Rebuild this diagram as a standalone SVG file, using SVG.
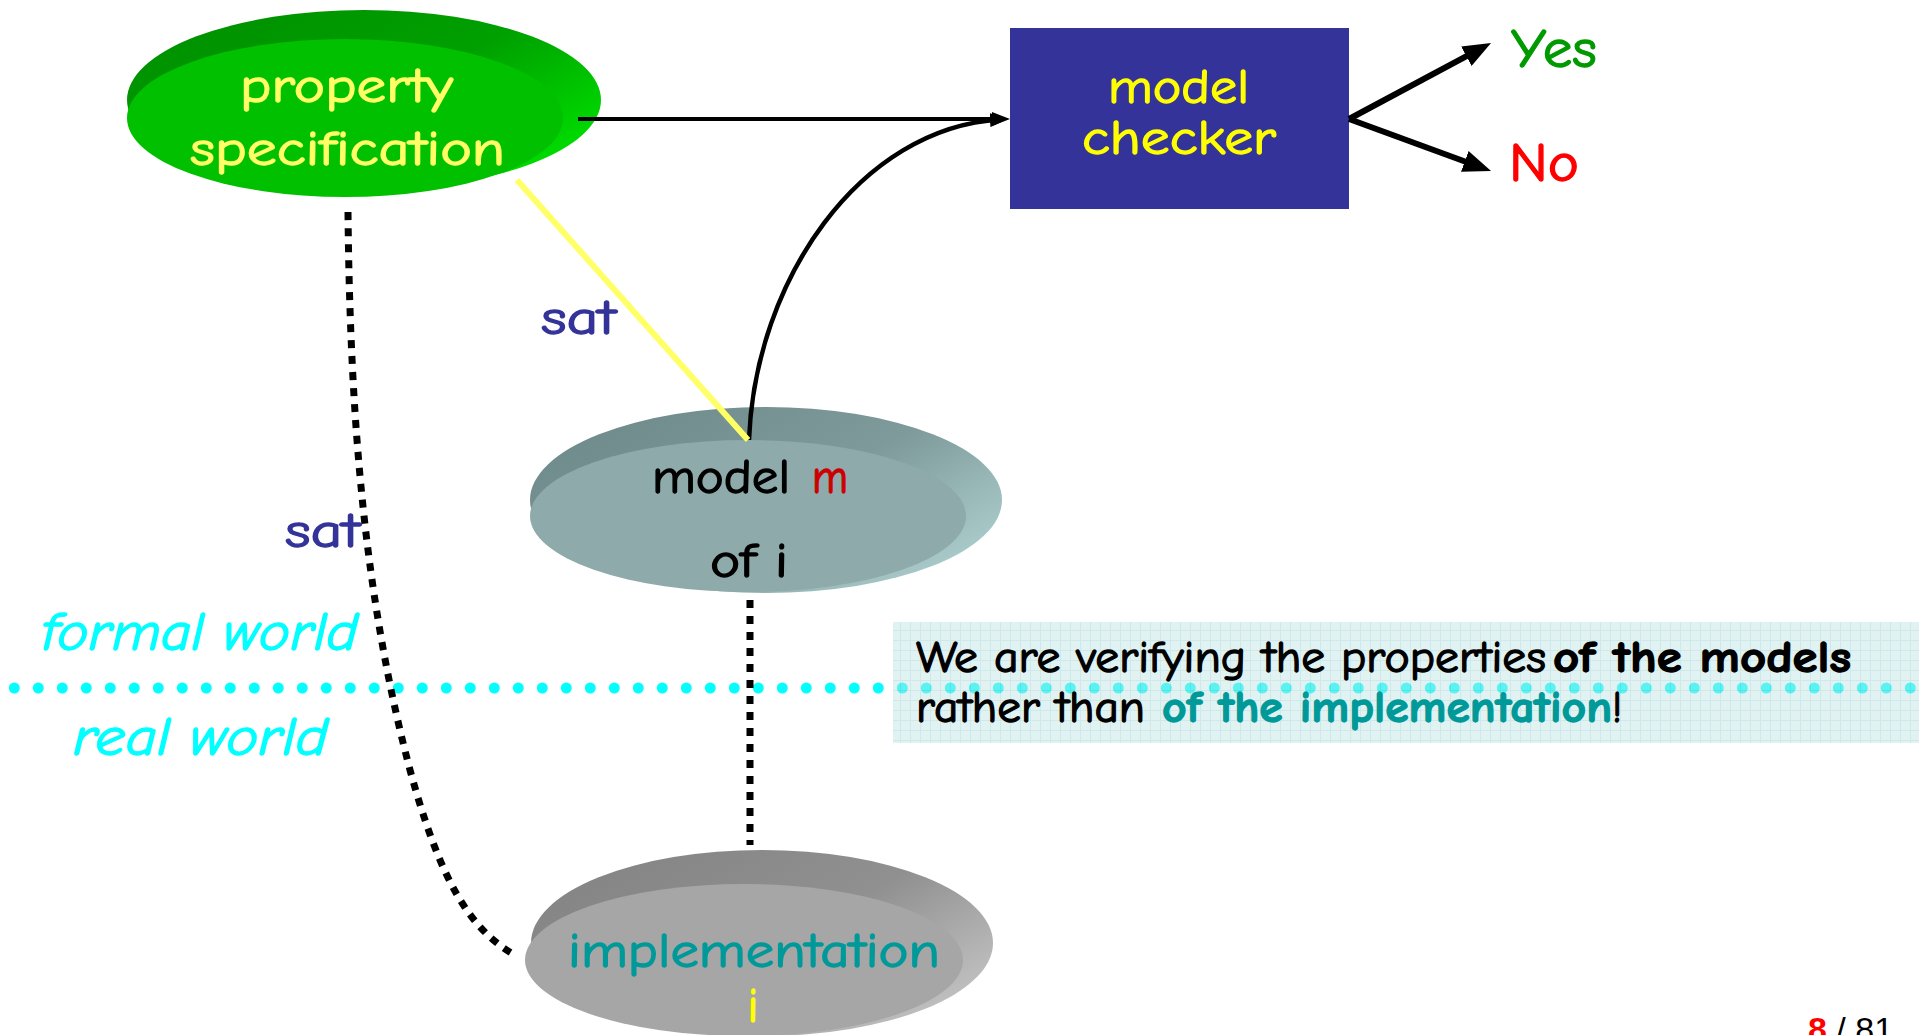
<svg xmlns="http://www.w3.org/2000/svg" width="1919" height="1035" viewBox="0 0 1919 1035">
<style>
.t{font-family:"Comic Sans MS","Comic Neue","DejaVu Sans",sans-serif;font-size:48px;stroke-width:1.3px;}
.big{font-size:54px;}
.box{font-size:44px;}
.it{font-style:italic;font-size:54px;fill:#00FFFF;stroke:#00FFFF;}
.lbl{fill:#333399;stroke:#333399;}
.conn{fill:none;stroke:#000;}
.dot{fill:none;stroke:#000;stroke-width:7;stroke-dasharray:8 8;}
</style>
<defs>
<linearGradient id="gGreen" x1="0" y1="0" x2="1" y2="0.7">
<stop offset="0" stop-color="#008E00"/><stop offset="0.6" stop-color="#00A000"/><stop offset="1" stop-color="#00DD00"/>
</linearGradient>
<linearGradient id="gModel" x1="0" y1="0" x2="1" y2="0.7">
<stop offset="0" stop-color="#6C8787"/><stop offset="0.6" stop-color="#7E9A9A"/><stop offset="1" stop-color="#AACBCB"/>
</linearGradient>
<linearGradient id="gImpl" x1="0" y1="0" x2="1" y2="0.7">
<stop offset="0" stop-color="#828282"/><stop offset="0.6" stop-color="#909090"/><stop offset="1" stop-color="#C0C0C0"/>
</linearGradient>
<pattern id="grid" width="10" height="10" patternUnits="userSpaceOnUse">
<rect width="10" height="10" fill="#BFE4E4"/>
<path d="M0 0.5H10M0.5 0V10" stroke="#9CCFD2" stroke-width="1"/>
</pattern>
<marker id="hs" viewBox="0 0 18 14" refX="10" refY="7" markerWidth="18" markerHeight="14" markerUnits="userSpaceOnUse" orient="auto">
<path d="M0 0L18 7L0 14z" fill="#000"/>
</marker>
<marker id="hl" viewBox="0 0 28 22" refX="14" refY="11" markerWidth="28" markerHeight="22" markerUnits="userSpaceOnUse" orient="auto">
<path d="M0 0L28 11L0 22z" fill="#000"/>
</marker>
</defs>
<rect width="1919" height="1035" fill="#FFFFFF"/>

<!-- world separator -->
<path d="M14.3 688H1919" fill="none" stroke="#00FFFF" stroke-width="11" stroke-linecap="round" stroke-dasharray="0 24"/>
<text class="t it" x="42" y="650" textLength="316" lengthAdjust="spacingAndGlyphs">formal world</text>
<text class="t it" x="73" y="755" textLength="255" lengthAdjust="spacingAndGlyphs">real world</text>

<!-- note box -->
<g id="note">
<rect x="893" y="622" width="1026" height="121" fill="url(#grid)" opacity="0.48"/>
<text class="t box" x="916" y="672" fill="#000" stroke="#000" textLength="630" lengthAdjust="spacingAndGlyphs">We are verifying the properties</text>
<text class="t box" x="1553" y="672" font-weight="bold" fill="#000" stroke="#000" textLength="298" lengthAdjust="spacingAndGlyphs">of the models</text>
<text class="t box" x="916" y="722" fill="#000" stroke="#000" textLength="229" lengthAdjust="spacingAndGlyphs">rather than</text>
<text class="t box" x="1162" y="722" font-weight="bold" fill="#009999" stroke="#009999" textLength="450" lengthAdjust="spacingAndGlyphs">of the implementation</text>
<text class="t box" x="1612" y="722" fill="#000" stroke="#000" textLength="10" lengthAdjust="spacingAndGlyphs">!</text>
</g>

<!-- nodes -->
<g id="property">
<ellipse cx="364" cy="100" rx="237" ry="90" fill="url(#gGreen)"/>
<ellipse cx="345" cy="118" rx="218" ry="79" fill="#00C000"/>
<text class="t" x="240" y="102" fill="#FFFF66" stroke="#FFFF66" textLength="213" lengthAdjust="spacingAndGlyphs">property</text>
<text class="t" x="190" y="165" fill="#FFFF66" stroke="#FFFF66" textLength="315" lengthAdjust="spacingAndGlyphs">specification</text>
</g>
<g id="checker">
<rect x="1010" y="28" width="339" height="181" fill="#333399"/>
<text class="t" x="1108" y="103" fill="#FFFF00" stroke="#FFFF00" textLength="141" lengthAdjust="spacingAndGlyphs">model</text>
<text class="t" x="1082" y="154" fill="#FFFF00" stroke="#FFFF00" textLength="194" lengthAdjust="spacingAndGlyphs">checker</text>
</g>
<g id="yes"><text class="t big" x="1511" y="67" fill="#009900" stroke="#009900" textLength="86" lengthAdjust="spacingAndGlyphs">Yes</text></g>
<g id="no"><text class="t big" x="1509" y="181" fill="#FF0000" stroke="#FF0000" textLength="70" lengthAdjust="spacingAndGlyphs">No</text></g>
<g id="model">
<ellipse cx="766" cy="500" rx="236" ry="93" fill="url(#gModel)"/>
<ellipse cx="748" cy="516" rx="218" ry="76" fill="#8EAAAA"/>
<text class="t" x="652" y="493" fill="#000" stroke="#000" textLength="138" lengthAdjust="spacingAndGlyphs">model</text>
<text class="t" x="812" y="493" fill="#CC0000" stroke="#CC0000" textLength="36" lengthAdjust="spacingAndGlyphs">m</text>
<text class="t" x="710" y="577" fill="#000" stroke="#000" textLength="78" lengthAdjust="spacingAndGlyphs">of i</text>
</g>
<g id="implementation">
<ellipse cx="762" cy="943" rx="231" ry="93" fill="url(#gImpl)"/>
<ellipse cx="744" cy="960" rx="219" ry="76" fill="#A6A6A6"/>
<text class="t" x="568" y="967" fill="#009999" stroke="#009999" textLength="372" lengthAdjust="spacingAndGlyphs">implementation</text>
<text class="t" x="753" y="1022" fill="#FFFF00" stroke="#FFFF00" text-anchor="middle">i</text>
</g>

<!-- connectors -->
<g id="connectors">
<path class="conn" d="M578 119H1002" stroke-width="4" marker-end="url(#hs)"/>
<path class="conn" d="M749 440C755 280 860 128 1000 119.5" stroke-width="4.5" marker-end="url(#hs)"/>
<path class="conn" d="M1349 119L1478.7 49.6" stroke-width="6" marker-end="url(#hl)"/>
<path class="conn" d="M1349 119L1477.9 166.2" stroke-width="6" marker-end="url(#hl)"/>
<path d="M517 180L748 440" fill="none" stroke="#FFFF66" stroke-width="6"/>
<path class="dot" d="M750 600V845"/>
<path class="dot" d="M348 212C350 420 365 600 410 770C440 880 470 930 515 955"/>
</g>
<text class="t lbl" x="541" y="334" textLength="75" lengthAdjust="spacingAndGlyphs">sat</text>
<text class="t lbl" x="285" y="547" textLength="75" lengthAdjust="spacingAndGlyphs">sat</text>

<text x="1808" y="1041" font-family="'Liberation Sans',Arial,sans-serif" font-size="34" fill="#000"><tspan fill="#FF0000" font-weight="bold">8</tspan> / 81</text>
</svg>
